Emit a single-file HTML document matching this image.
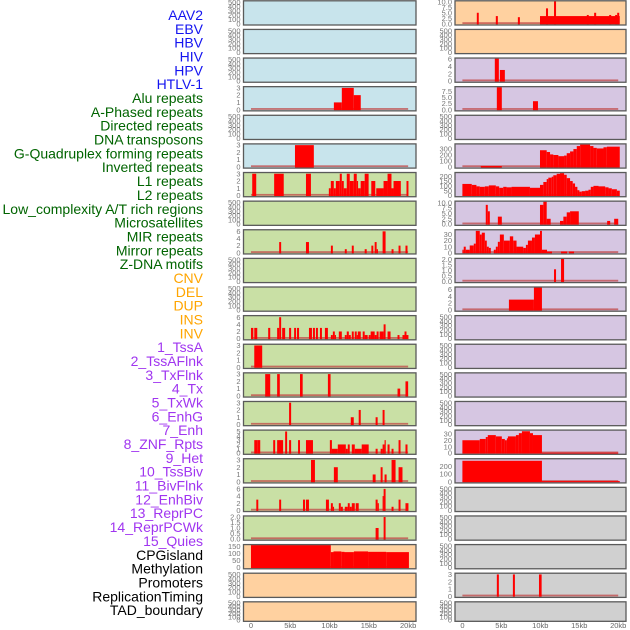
<!DOCTYPE html>
<html><head><meta charset="utf-8"><style>
html,body{margin:0;padding:0;background:#fff;width:630px;height:630px;overflow:hidden}
svg{display:block}
</style></head><body>
<svg id="chart" width="630" height="630" xmlns="http://www.w3.org/2000/svg"></svg>
<script>
// ---- data (kb start, kb end, value) ----
const labelNames = ["AAV2","EBV","HBV","HIV","HPV","HTLV-1","Alu repeats","A-Phased repeats","Directed repeats","DNA transposons","G-Quadruplex forming repeats","Inverted repeats","L1 repeats","L2 repeats","Low_complexity A/T rich regions","Microsatellites","MIR repeats","Mirror repeats","Z-DNA motifs","CNV","DEL","DUP","INS","INV","1_TssA","2_TssAFlnk","3_TxFlnk","4_Tx","5_TxWk","6_EnhG","7_Enh","8_ZNF_Rpts","9_Het","10_TssBiv","11_BivFlnk","12_EnhBiv","13_ReprPC","14_ReprPCWk","15_Quies","CPGisland","Methylation","Promoters","ReplicationTiming","TAD_boundary"];
const labelGroups = [6,13,5,15,5];
const xTicks = [0,5,10,15,20];
const xTickLabels = ["0","5kb","10kb","15kb","20kb"];
const emptyTicks = [0,100,200,300,400,500];

const L3 = [[10.55,11.56,1],[11.56,13.08,3],[13.08,13.97,2]];
const L5 = [[5.6,8.0,3]];
const L6 = [[0.16,0.67,3],[2.95,4.17,3],[7.0,7.63,3],[9.91,10.16,1],[10.16,10.54,2],[10.54,10.8,1],[10.8,11.3,2],[11.3,11.56,3],[11.56,11.81,2],[11.81,12.19,1],[12.19,12.57,3],[12.57,13.08,2],[13.08,13.46,3],[13.46,13.63,2],[13.63,13.96,1],[13.96,14.47,2],[14.47,14.97,3],[15.31,15.82,2],[15.94,16.87,1],[16.87,17.38,2],[17.38,17.88,3],[17.88,18.14,1],[18.14,19.07,2],[19.79,20.04,2]];
const L8 = [[3.59,3.84,3],[7.0,7.38,3],[10.17,10.42,2],[11.94,12.19,1],[12.83,13.08,2],[14.47,14.73,1],[15.32,15.57,2],[15.74,15.99,3],[15.99,16.16,1],[16.75,17.13,6],[17.89,18.14,1],[18.78,19.03,2],[19.66,19.92,2]];
const L11 = [[0,0.3,3],[0.42,0.8,3],[2.19,2.45,3],[3.33,3.59,3],[3.59,3.84,6],[3.97,4.35,3],[4.85,5.11,3],[5.49,5.74,3],[5.86,6.12,3],[7.38,7.76,3],[7.89,8.14,3],[8.27,8.52,3],[8.78,9.03,3],[9.41,9.79,3],[10.17,10.42,1],[10.42,10.67,2],[10.67,10.8,1],[11.18,11.56,2],[11.94,12.19,1],[12.19,12.45,2],[12.45,12.7,1],[12.83,13.08,2],[13.21,13.46,2],[13.46,13.59,1],[13.59,13.97,2],[14.22,14.47,2],[14.47,14.85,1],[14.98,15.23,1],[15.23,15.74,2],[15.74,15.99,1],[15.99,16.24,2],[16.37,16.88,2],[16.88,17.13,4],[17.38,17.76,2],[18.65,18.9,1],[19.28,19.54,1],[19.54,19.79,2],[19.79,20.04,1]];
const L12 = [[0.42,1.43,3]];
const L13 = [[1.81,2.45,3],[3.33,3.67,3],[6.24,6.58,3],[9.79,10.13,3],[18.65,18.99,1],[19.66,20.0,2]];
const L14 = [[4.85,5.11,3],[12.7,13.08,1],[13.71,13.97,2],[15.86,16.12,1],[16.75,17.0,2]];
const L15 = [[0.42,0.8,3],[0.8,1.18,3],[2.83,3.08,3],[3.33,4.09,3],[4.35,4.6,5],[4.85,5.11,3],[5.99,6.24,3],[7.0,7.89,3],[10.04,10.3,3],[10.3,11.05,1],[11.05,12.07,2],[12.07,12.32,1],[12.32,12.57,2],[12.83,13.21,2],[13.21,14.09,1],[14.09,14.98,2],[15.86,16.12,1],[16.5,16.75,1],[16.75,17.0,2],[17.0,17.13,3],[17.38,17.64,2],[17.89,18.14,1],[18.78,19.03,3],[19.66,19.92,2]];
const L16 = [[7.64,8.14,3],[10.55,11.05,2],[15.49,15.86,1],[16.5,16.75,2],[17.0,17.26,1],[17.89,18.4,3],[18.78,19.28,2]];
const L17 = [[0.68,0.93,3],[3.59,3.84,3],[6.62,6.88,3],[7.0,7.38,3],[9.54,9.92,3],[10.17,10.42,2],[10.42,10.55,1],[11.18,11.43,2],[11.43,11.69,1],[11.94,12.32,1],[12.32,12.57,2],[12.57,12.83,1],[12.83,13.21,2],[13.33,13.71,2],[15.86,16.12,3],[16.12,16.24,2],[16.75,16.88,4],[16.88,17.13,6],[17.89,18.14,1],[18.78,19.03,3],[19.66,20.04,2]];
const L18 = [[15.86,16.24,1],[16.88,17.13,2]];
const L19 = [[0,10.16,170],[10.16,10.5,110],[10.5,11.5,115],[11.5,11.9,112],[11.9,13.1,110],[13.1,14.9,115],[14.9,16.1,112],[16.1,17.2,112],[17.2,20.1,110]];

const R0 = [[1.85,2.1,5],[4.29,4.55,3.5],[7.12,7.38,3],[9.96,20.2,3.5],[10.73,10.99,7],[11.76,12.02,10.3],[15.97,16.22,4],[16.91,17.17,5],[18.84,19.1,4],[19.61,19.87,4],[19.87,20.13,5]];
const R2 = [[4.16,4.68,6.1],[4.81,5.45,3]];
const R3 = [[4.42,5.06,9.3],[9.06,9.7,3.5]];
const R5 = [[2.36,5.06,15],[9.96,10.82,280],[10.82,11.25,250],[11.25,11.67,210],[11.67,12.32,200],[12.32,13.05,180],[13.05,13.39,190],[13.39,13.82,230],[13.82,14.25,260],[14.25,14.68,300],[14.68,15.11,350],[15.11,16.39,375],[16.39,16.82,350],[16.82,17.25,320],[17.25,18.11,310],[18.11,18.54,330],[18.54,20.2,340]];
const R6 = [[0,1.2,120],[1.2,1.8,110],[1.8,2.23,95],[2.23,2.88,90],[2.88,3.39,95],[3.39,4.29,105],[4.29,4.72,95],[4.72,5.24,80],[5.24,5.67,90],[5.67,6.31,85],[6.31,8.67,90],[8.67,9.96,80],[9.96,10.39,110],[10.39,10.82,140],[10.82,11.03,170],[11.03,11.46,185],[11.46,11.67,195],[11.67,12.1,210],[12.1,12.53,225],[12.53,13.05,232],[13.05,13.39,215],[13.39,13.82,180],[13.82,14.16,150],[14.16,14.46,125],[14.46,14.76,90],[14.76,15.02,55],[15.02,15.32,40],[15.32,15.75,45],[15.75,16.18,50],[16.18,16.48,60],[16.48,16.82,90],[16.82,17.47,100],[17.47,18.33,95],[18.33,18.76,85],[18.76,19.18,75],[19.18,19.83,65],[19.83,20.2,50]];
const R7 = [[3.0,3.26,9],[3.26,3.52,6],[4.55,5.06,3.5],[9.96,10.39,9],[10.39,10.82,10.5],[10.82,11.33,2.5],[12.53,12.96,1.5],[12.96,13.39,3.5],[13.39,13.82,5.5],[13.82,14.94,6],[18.58,18.97,1.5],[19.48,20.0,2.5]];
const R8 = [[0,0.17,5],[0.17,0.43,10],[0.43,0.94,5],[0.94,1.46,12],[1.46,1.72,15],[1.72,2.23,36],[2.23,2.49,30],[2.49,2.88,33],[2.88,3.13,20],[3.13,3.39,10],[3.39,3.65,8],[4.03,4.29,5],[4.29,4.55,10],[4.55,4.81,18],[4.81,5.32,30],[5.32,6.09,20],[6.09,6.52,27],[6.52,6.95,20],[6.95,7.81,10],[7.81,8.15,8],[8.15,8.41,13],[8.41,8.93,20],[8.93,9.31,25],[9.31,9.96,30],[9.96,10.21,36],[10.21,10.86,5],[10.86,11.5,2],[12.66,13.43,2],[13.69,14.33,2]];
const R9 = [[11.76,12.02,1.1],[12.66,13.05,2.1]];
const R10 = [[5.97,9.18,3],[9.18,10.21,6.5]];
const R15 = [[0,2.23,20],[2.23,3.0,22],[3.0,3.26,25],[3.26,4.29,28],[4.29,5.06,26],[5.06,5.45,22],[5.45,5.71,20],[5.71,5.84,23],[5.84,6.87,26],[6.87,7.25,28],[7.25,7.64,31],[7.64,8.67,34],[8.67,9.06,31],[9.06,10.21,28],[10.21,20,0.7]];
const R16 = [[0,10.21,270],[10.21,20.2,8]];
const R20 = [[4.42,4.68,3],[6.48,6.74,3],[9.83,10.17,3]];

// panels: [bars, ymax, ticks, tickLabels]
const leftPanels = [
 [null],[null],[null],
 [L3,3.1,[0,1,2,3]],[null],[L5,3.1,[0,1,2,3]],
 [L6,3.1,[0,1,2,3]],[null],[L8,6.3,[0,2,4,6]],[null],[null],
 [L11,6.3,[0,2,4,6]],[L12,3.1,[0,1,2,3]],[L13,3.1,[0,1,2,3]],[L14,3.1,[0,1,2,3]],
 [L15,5.2,[0,1,2,3,4,5]],[L16,3.1,[0,1,2,3]],[L17,6.3,[0,2,4,6]],[L18,2.05,[0,0.5,1,1.5,2],["0.0","0.5","1.0","1.5","2.0"]],
 [L19,160,[0,50,100,150]],[null],[null]
];
const rightPanels = [
 [R0,10.2,[0,2.5,5,7.5,10],["0.0","2.5","5.0","7.5","10.0"]],[null],
 [R2,6.1,[0,2,4,6]],[R3,9.3,[0,2.5,5,7.5],["0.0","2.5","5.0","7.5"]],[null],
 [R5,378,[0,100,200,300]],[R6,233,[0,50,100,150,200]],[R7,10.5,[0,2.5,5,7.5,10],["0.0","2.5","5.0","7.5","10.0"]],
 [R8,37,[0,10,20,30]],[R9,2.05,[0,0.5,1,1.5,2],["0.0","0.5","1.0","1.5","2.0"]],[R10,6.5,[0,2,4,6]],
 [null],[null],[null],[null],
 [R15,35,[0,10,20,30]],[R16,290,[0,100,200]],
 [null],[null],[null],[R20,3.1,[0,1,2,3]],[null]
];
const leftBg = ["#c8e4ec","#c8e4ec","#c8e4ec","#c8e4ec","#c8e4ec","#c8e4ec","#c9e0a5","#c9e0a5","#c9e0a5","#c9e0a5","#c9e0a5","#c9e0a5","#c9e0a5","#c9e0a5","#c9e0a5","#c9e0a5","#c9e0a5","#c9e0a5","#c9e0a5","#ffd1a0","#ffd1a0","#ffd1a0"];
const rightBg = ["#ffd1a0","#ffd1a0","#d6c6e2","#d6c6e2","#d6c6e2","#d6c6e2","#d6c6e2","#d6c6e2","#d6c6e2","#d6c6e2","#d6c6e2","#d6c6e2","#d6c6e2","#d6c6e2","#d6c6e2","#d6c6e2","#d6c6e2","#d0d0d0","#d0d0d0","#d0d0d0","#d0d0d0","#d0d0d0"];

// ---- drawing ----
const NS = "http://www.w3.org/2000/svg";
const svg = document.getElementById("chart");
function mk(tag, attrs, parent){const e=document.createElementNS(NS,tag);for(const k in attrs)e.setAttribute(k,attrs[k]);(parent||svg).appendChild(e);return e;}

const groupColors = ["#1414f0","#006400","#ffa500","#a035f0","#000000"];
let li = 0;
labelGroups.forEach((n,g)=>{
  for(let k=0;k<n;k++){
    const t = mk("text",{x:203,y:15+li*13.84+5,"text-anchor":"end","font-family":"Liberation Sans, sans-serif","font-size":"14",fill:groupColors[g]});
    
    
    t.textContent = labelNames[li];
    li++;
  }
});

const cols = [{x0:243.5,x1:416,panels:leftPanels,bg:leftBg,name:"left"},{x0:455,x1:626,panels:rightPanels,bg:rightBg,name:"right"}];
const DMIN=-0.95, DMAX=21;
function panelTop(i){return 0.8+i*28.62;}
function panelH(i){return i===21?19.5:24.2;}

cols.forEach(c=>{
  const xs = kb => c.x0 + (kb-DMIN)/(DMAX-DMIN)*(c.x1-c.x0);
  c.panels.forEach((p,i)=>{
    const top=panelTop(i), h=panelH(i), bot=top+h-1.2;
    const g = mk("g",{});
    
    
    const r = mk("rect",{x:c.x0,y:top,width:c.x1-c.x0,height:h,fill:c.bg[i]},g);
    
    
    const bars=p[0];
    const ymax = bars? p[1] : 520;
    const ticks = bars? p[2] : emptyTicks;
    const tlabels = bars && p[3] ? p[3] : ticks.map(String);
    const ys = v => bot - Math.min(v,ymax)/ymax*(bot-top-0.5);
    ticks.forEach((tv,k)=>{
      const t = mk("text",{x:c.x0-3,y:ys(tv)+2.6,"text-anchor":"end","font-family":"Liberation Sans, sans-serif","font-size":"7.5",fill:"#777"},g);
      
      
      t.textContent = tlabels[k];
    });
    if(bars){
      const bl = mk("rect",{x:xs(0),y:bot-1.6,width:xs(20)-xs(0),height:1.8,fill:"#c04848",opacity:"0.75"},g);
      
      
      bars.forEach(b=>{
        const x=xs(b[0]), w=Math.max(1.2,xs(b[1])-xs(b[0]));
        const y=ys(b[2]);
        const rr = mk("rect",{x:x,y:y,width:w,height:bot-y+0.6,fill:"#ff0000"},g);
        
        
      });
    }
    const br = mk("rect",{x:c.x0,y:top,width:c.x1-c.x0,height:h,fill:"none",stroke:"#5a5a5a","stroke-width":"1.3"},g);
    
    
  });
  xTicks.forEach((v,k)=>{
    const t = mk("text",{x:xs(v),y:628,"text-anchor":"middle","font-family":"Liberation Sans, sans-serif","font-size":"7.5",fill:"#666"});
    
    
    t.textContent = xTickLabels[k];
  });
});
</script>
</body></html>
